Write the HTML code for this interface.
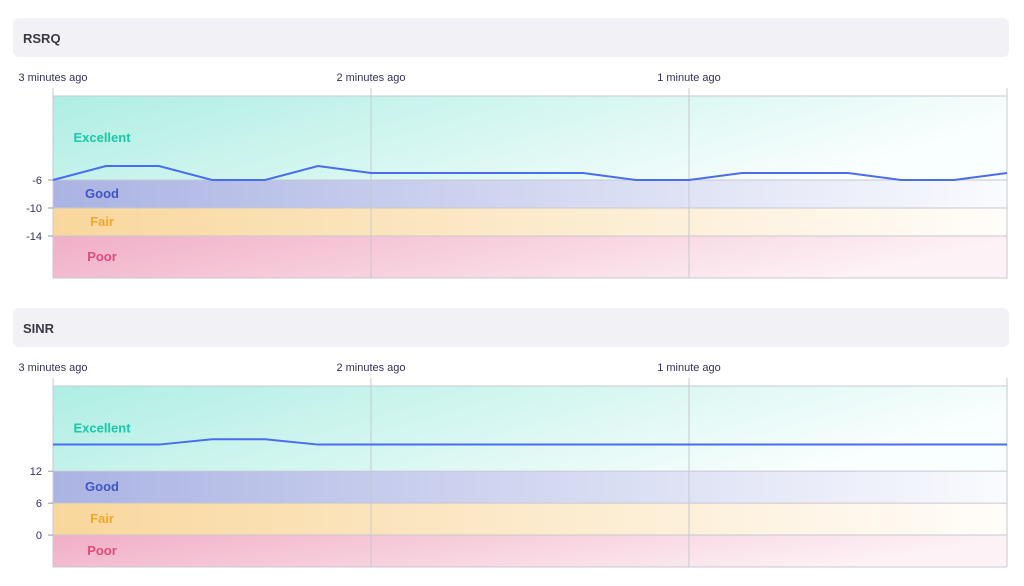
<!DOCTYPE html>
<html><head><meta charset="utf-8">
<style>
body{margin:0;background:#fff;font-family:"Liberation Sans",sans-serif;}
.hdr{position:absolute;left:13px;width:996px;height:39px;background:#f2f1f6;border-radius:6px;}
.hdr span{position:absolute;left:10px;top:13px;font-size:13px;font-weight:bold;color:#3a3a44;}
svg{position:absolute;left:0;top:0;}
</style></head><body>
<div class="hdr" style="top:18px"><span>RSRQ</span></div>
<div class="hdr" style="top:308px"><span>SINR</span></div>
<svg id="s" width="1024" height="586">
<defs>
<linearGradient id="gE" x1="0" y1="0" x2="1" y2="0.3"><stop offset="0" stop-color="#aeeee3"/><stop offset="1" stop-color="#f9fefe"/></linearGradient>
<linearGradient id="gG" x1="0" y1="0" x2="1" y2="0"><stop offset="0" stop-color="#aab3e3"/><stop offset="1" stop-color="#fafbfe"/></linearGradient>
<linearGradient id="gF" x1="0" y1="0" x2="1" y2="0"><stop offset="0" stop-color="#f9d79c"/><stop offset="1" stop-color="#fffdfa"/></linearGradient>
<linearGradient id="gP" x1="0" y1="0" x2="1" y2="0.2"><stop offset="0" stop-color="#f1aec6"/><stop offset="1" stop-color="#fdf3f6"/></linearGradient>
</defs>
</svg>
<script>
const timeLabels=["3 minutes ago","2 minutes ago","1 minute ago"];
const rsrqValues=[-6,-4,-4,-6,-6,-4,-5,-5,-5,-5,-5,-6,-6,-5,-5,-5,-6,-6,-5];
const rsrqTicks=[-6,-10,-14];
const sinrValues=[17,17,17,18,18,17,17,17,17,17,17,17,17,17,17,17,17,17,17];
const sinrTicks=[12,6,0];
const bandNames=["Excellent","Good","Fair","Poor"];
const svg=document.getElementById('s');
const NS="http://www.w3.org/2000/svg";
function mk(t,a,txt){const e=document.createElementNS(NS,t);for(const k in a)e.setAttribute(k,a[k]);if(txt!=null)e.textContent=txt;svg.appendChild(e);return e;}
function chart(cfg){
  const x0=53,x1=1007,top=cfg.top,bot=cfg.bot;
  const y=v=>top+(cfg.max-v)/(cfg.max-cfg.min)*(bot-top);
  const x=i=>x0+i*(x1-x0)/(cfg.values.length-1);
  const bounds=[cfg.max,cfg.ticks[0],cfg.ticks[1],cfg.ticks[2],cfg.min];
  const fills=["url(#gE)","url(#gG)","url(#gF)","url(#gP)"];
  const cols=["#19c9a8","#3f55c4","#f4a62a","#e04a7c"];
  const lx=[102,102,102,102];
  for(let b=0;b<4;b++){
    const r=mk('rect',{x:x0,y:y(bounds[b]),width:x1-x0,height:y(bounds[b+1])-y(bounds[b]),fill:fills[b]});
    
    
    const yy=b==0?y(bounds[0])+ (y(bounds[1])-y(bounds[0]))*0.5 : (y(bounds[b])+y(bounds[b+1]))/2;
    const t=mk('text',{x:lx[b],y:yy+4,'text-anchor':'middle','font-size':13,'font-weight':'bold',fill:cols[b]},bandNames[b]);
    
    
  }
  for(let b=0;b<5;b++){mk('line',{x1:x0,x2:x1,y1:y(bounds[b]),y2:y(bounds[b]),stroke:'#c8c8d0','stroke-width':1});}
  for(let k=0;k<4;k++){const gx=x0+k*(x1-x0)/3;mk('line',{x1:gx,x2:gx,y1:top-8,y2:bot,stroke:'#c8c8d0','stroke-width':1});}
  timeLabels.forEach((l,k)=>{const t=mk('text',{x:x0+k*(x1-x0)/3,y:top-15,'text-anchor':'middle','font-size':11,fill:'#333355'},l);
    });
  cfg.ticks.forEach(v=>{mk('line',{x1:x0-5,x2:x0,y1:y(v),y2:y(v),stroke:'#999'});
    const t=mk('text',{x:x0-11,y:y(v)+4,'text-anchor':'end','font-size':11,fill:'#333355'},v);
    });
  const p=mk('polyline',{points:cfg.values.map((v,i)=>x(i)+','+y(v)).join(' '),fill:'none',stroke:'#4a6cf0','stroke-width':2});
  
}
chart({id:'rsrq',top:96,bot:278,max:6,min:-20,values:rsrqValues,ticks:rsrqTicks});
chart({id:'sinr',top:386,bot:567,max:28,min:-6,values:sinrValues,ticks:sinrTicks});
</script>
</body></html>
